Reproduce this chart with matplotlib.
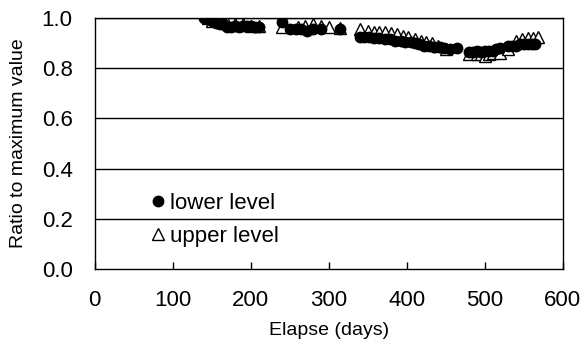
import matplotlib
matplotlib.use("Agg")
import matplotlib.pyplot as plt

lower_days = [140,143,146,150,153,157,160,165,170,175,180,185,190,195,200,205,210,
              240,
              250,258,265,272,280,290,
              315,
              340,345,352,358,365,372,378,385,392,398,405,410,416,422,428,435,442,448,455,465,
              480,485,490,495,500,505,510,515,520,
              530,535,540,545,550,555,560,565]
lower_vals = [1.0,1.0,0.995,0.99,0.985,0.98,0.975,0.975,0.965,0.965,0.97,0.965,0.97,0.97,0.97,0.965,0.965,
              0.985,
              0.955,0.955,0.955,0.95,0.955,0.955,
              0.955,
              0.925,0.925,0.925,0.92,0.92,0.915,0.915,0.91,0.91,0.905,0.905,0.9,0.895,0.89,0.89,0.885,0.885,0.88,0.875,0.88,
              0.865,0.865,0.87,0.865,0.87,0.87,0.87,0.875,0.88,
              0.89,0.89,0.89,0.895,0.895,0.895,0.895,0.895]

upper_days = [145,150,160,170,180,190,200,210,
              240,
              260,270,280,290,300,315,
              340,350,358,365,372,380,387,395,402,410,418,425,432,440,450,
              480,490,495,500,505,510,520,530,
              540,548,555,562,568]
upper_vals = [1.0,0.99,0.985,0.98,0.975,0.975,0.97,0.97,
              0.965,
              0.965,0.97,0.975,0.97,0.965,0.96,
              0.955,0.95,0.945,0.945,0.945,0.94,0.935,0.93,0.925,0.915,0.91,0.905,0.9,0.89,0.875,
              0.855,0.855,0.855,0.85,0.855,0.86,0.86,0.875,
              0.91,0.915,0.92,0.92,0.925]

x_ticks = [0, 100, 200, 300, 400, 500, 600]
y_ticks = [0.0, 0.2, 0.4, 0.6, 0.8, 1.0]

plt.rcParams['font.family'] = ['Liberation Sans', 'DejaVu Sans']

fig = plt.figure(figsize=(5.85, 3.53), dpi=100)
ax = fig.add_axes([0.162, 0.238, 0.800, 0.711])

ax.plot(upper_days, upper_vals, linestyle='none', marker='^', markersize=8,
        markerfacecolor='white', markeredgecolor='black', markeredgewidth=1.0,
        label='upper level', zorder=3)
ax.plot(lower_days, lower_vals, linestyle='none', marker='o', markersize=7.5,
        markerfacecolor='black', markeredgecolor='black',
        label='lower level', zorder=4)

ax.set_xlim(0, 600)
ax.set_ylim(0, 1.0)
ax.set_xticks(x_ticks)
ax.set_yticks(y_ticks)
ax.set_yticklabels([f"{v:.1f}" for v in y_ticks])
ax.tick_params(axis='x', direction='in', length=5, labelsize=16, pad=15, width=1)
ax.tick_params(axis='y', direction='in', length=0, labelsize=16, pad=16)
for y in y_ticks[1:]:
    ax.axhline(y, color='black', linewidth=1.0, zorder=1)
for s in ax.spines.values():
    s.set_linewidth(1.0)
    s.set_color('black')

ax.set_xlabel('Elapse (days)', fontsize=14)
ax.set_ylabel('Ratio to maximum value', fontsize=14)
ax.xaxis.label.set_va('center')
ax.yaxis.label.set_va('center')
ax.xaxis.set_label_coords(0.5, -0.245)
ax.yaxis.set_label_coords(-0.162, 0.5)

h, l = ax.get_legend_handles_labels()
leg = ax.legend([h[1], h[0]], [l[1], l[0]], loc='lower left',
                bbox_to_anchor=(0.123, 0.088), frameon=False, fontsize=16,
                handlelength=0.5, handletextpad=0.3, labelspacing=0.55,
                borderaxespad=0, borderpad=0)

fig.savefig('out.png', dpi=100)
